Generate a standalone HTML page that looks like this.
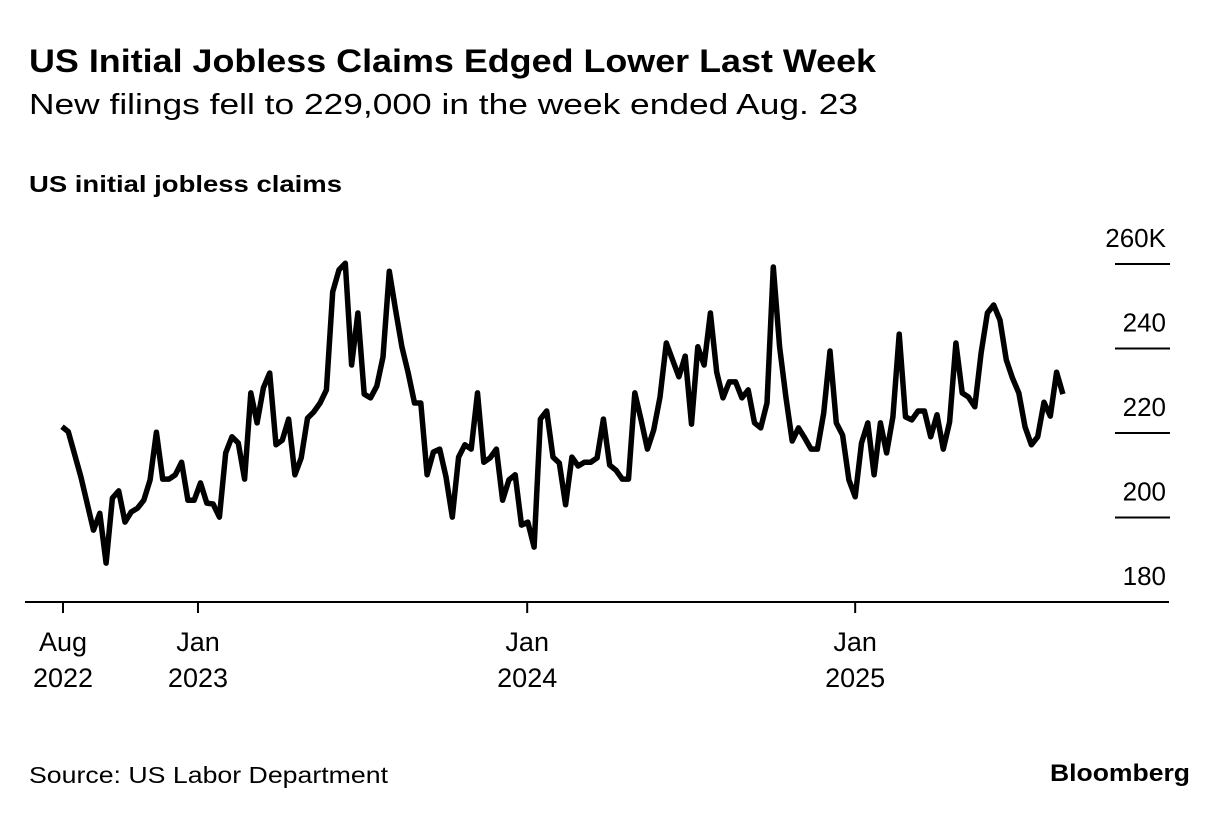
<!DOCTYPE html>
<html><head><meta charset="utf-8">
<style>
body{margin:0;background:#fff;font-family:"Liberation Sans",sans-serif;}
svg{display:block}
</style></head>
<body>
<svg id="chart" width="1230" height="816" viewBox="0 0 1230 816">
<text x="29" y="72" font-size="32" font-weight="bold" fill="#000" textLength="847" lengthAdjust="spacingAndGlyphs">US Initial Jobless Claims Edged Lower Last Week</text>
<text x="29" y="114" font-size="29" fill="#000" textLength="829" lengthAdjust="spacingAndGlyphs">New filings fell to 229,000 in the week ended Aug. 23</text>
<text x="29" y="192" font-size="23" font-weight="bold" fill="#000" textLength="313" lengthAdjust="spacingAndGlyphs">US initial jobless claims</text>
<g id="yaxis"></g>
<g id="xaxis"></g>
<g id="series"></g>
<text x="29" y="783" font-size="23" fill="#000" textLength="359" lengthAdjust="spacingAndGlyphs">Source: US Labor Department</text>
<text x="1050" y="781" font-size="24" font-weight="bold" fill="#000" textLength="140" lengthAdjust="spacingAndGlyphs">Bloomberg</text>
</svg>
<script>
const weeks=[0,1,3,5,6,7,8,9,10,11,12,13,14,15,16,17,18,19,20,21,22,23,24,25,26,27,28,29,30,31,32,33,34,35,36,37,38,39,40,41,42,43,44,45,46,47,48,49,50,51,52,53,54,55,56,57,58,59,60,61,62,63,64,65,66,67,68,69,70,71,72,73,74,75,76,77,78,79,80,81,82,83,84,85,86,87,88,89,90,91,92,93,94,95,96,97,98,99,100,101,102,103,104,105,106,107,108,109,110,111,112,113,114,115,116,117,118,119,120,121,122,123,124,125,126,127,128,129,130,131,132,133,134,135,136,137,138,139,140,141,142,143,144,145,146,147,148,149,150,151,152,153,154,155,156,157,158,159];
const claims=[221.5,220.3,209.6,197,201,189.2,204.6,206.3,198.9,201.3,202.2,204.1,208.9,220.2,209.1,209.1,210.1,213.1,204.1,204.1,208.2,203.4,203.2,200.1,215.3,219.1,217.6,209.1,229.5,222.4,230.7,234.2,217.2,218.3,223.3,210.1,214.1,223.5,225,227.1,230.2,253.4,258.6,260.2,236.1,248.4,229.2,228.3,231.1,238,258.3,249.1,240.4,234.2,227.1,227.1,210.1,215.5,216.2,209.6,200.1,214.3,217.2,216.2,229.5,213.1,214.1,216.2,204.1,208.9,210.1,198.2,198.9,193,223.3,225.2,214.3,212.9,203,214.3,212.2,213.1,213.1,214.1,223.3,212.4,211.2,209.1,209.1,229.5,223.1,216.2,220.7,228.5,241.3,237.3,233.3,238.2,222.1,240.4,236.1,248.4,234.4,228.3,232.1,232.1,228.3,230.2,222.4,221.2,227.1,259.3,240.4,228.5,218.1,221.2,218.8,216.2,216.2,224.7,239.4,222.4,219.5,208.9,204.9,217.6,222.4,210.1,222.4,215.3,223.8,243.4,223.8,223.1,225.2,225.2,219.1,224.3,216.2,222.6,241.3,229.5,228.5,226.2,238.9,248.4,250.3,246.7,237.3,233,229.5,221.4,217.2,219.1,227.3,224,234.4,229.2];
const yTicks=[180,200,220,240,260];
const yTickLabels=["180","200","220","240","260K"];
const xTickWeeks=[0.16,21.6,73.9,126];
const xTickLine1=["Aug","Jan","Jan","Jan"];
const xTickLine2=["2022","2023","2024","2025"];

const NS="http://www.w3.org/2000/svg";
function xScale(w){return 62+w*6.295;}
function yScale(v){return 602-(v-180)*4.225;}
function mk(tag,attrs,parent,txt){const e=document.createElementNS(NS,tag);for(const k in attrs)e.setAttribute(k,attrs[k]);if(txt!==undefined)e.textContent=txt;parent.appendChild(e);return e;}

const ya=document.getElementById('yaxis');
yTicks.forEach((t,i)=>{
  const y=yScale(t);
  if(t>180){
    const l=mk('line',{x1:1115,x2:1170,y1:y,y2:y,stroke:'#000','stroke-width':2},ya);
    
    
  }
  const tx=mk('text',{x:1166,y:y-17,'font-size':26,'text-anchor':'end',fill:'#000'},ya,yTickLabels[i]);
  
  
});

const xa=document.getElementById('xaxis');
const base=mk('line',{x1:25,x2:1169,y1:602,y2:602,stroke:'#000','stroke-width':2},xa);


xTickWeeks.forEach((w,i)=>{
  const x=xScale(w);
  const tk=mk('line',{x1:x,x2:x,y1:602,y2:613,stroke:'#000','stroke-width':2},xa);
  
  
  const t1=mk('text',{x:x,y:651,'font-size':27,'text-anchor':'middle',fill:'#000'},xa,xTickLine1[i]);
  
  
  const t2=mk('text',{x:x,y:687,'font-size':27,'text-anchor':'middle',fill:'#000'},xa,xTickLine2[i]);
  
  
});

const sg=document.getElementById('series');
const d=weeks.map((w,i)=>(i?'L':'M')+xScale(w).toFixed(1)+' '+yScale(claims[i]).toFixed(1)).join(' ');
const p=mk('path',{d:d,fill:'none',stroke:'#000','stroke-width':5.5,'stroke-linejoin':'round','stroke-linecap':'butt'},sg);


</script>
</body></html>
